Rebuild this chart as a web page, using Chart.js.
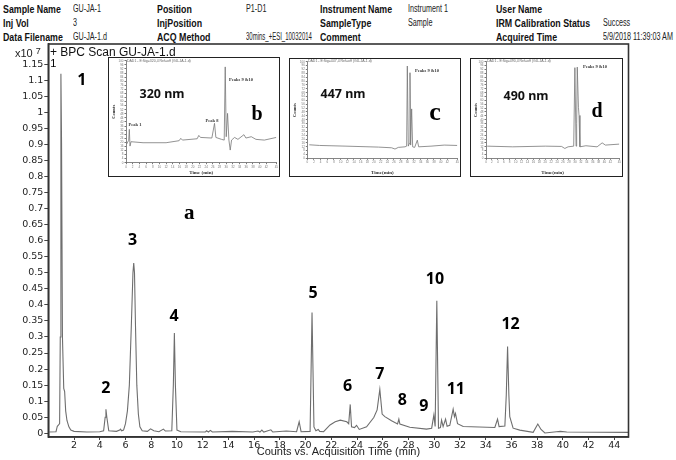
<!DOCTYPE html>
<html>
<head>
<meta charset="utf-8">
<title>BPC Scan GU-JA-1.d</title>
<script src="https://cdn.jsdelivr.net/npm/chart.js@4.4.0/dist/chart.umd.min.js"></script>
<style>
  body { margin: 0; background: #fff; }
  #page { position: relative; width: 676px; height: 460px; overflow: hidden; font-family: "Liberation Sans", Arial, sans-serif; }
  #main { position: absolute; left: 0; top: 0; }
  .hl, .hv { position: absolute; white-space: nowrap; font-family: "Liberation Sans", sans-serif; line-height: 12px; color: #111;
    transform-origin: left center; }
  .hl { font-weight: bold; font-size: 10.5px; transform: scaleX(0.84); }
  .hv { font-size: 10px; transform: scaleX(0.72); color: #222; }
  .inset { position: absolute; border: 1px solid #222; background: #fff; }
  .inset canvas { position: absolute; left: 0; top: 0; }
  .lbl { position: absolute; white-space: nowrap; transform: translate(-50%, -50%); }
  .nm { font-family: "Noto Sans", sans-serif; font-weight: bold; font-size: 12.5px; color: #111; }
  .big { font-family: "Liberation Serif", serif; font-weight: bold; color: #000; }
  .tiny { font-family: "Liberation Serif", serif; font-weight: bold; font-size: 4.5px; color: #333; }
  .hdr { position: absolute; font-size: 3.5px; color: #666; white-space: nowrap; }
</style>
</head>
<body>
<div id="page">
  <div class="hl" style="left:3px;top:3px">Sample Name</div>
  <div class="hv" style="left:73px;top:3px">GU-JA-1</div>
  <div class="hl" style="left:157px;top:3px">Position</div>
  <div class="hv" style="left:246px;top:3px">P1-D1</div>
  <div class="hl" style="left:320px;top:3px">Instrument Name</div>
  <div class="hv" style="left:408px;top:3px">Instrument 1</div>
  <div class="hl" style="left:496px;top:3px">User Name</div>

  <div class="hl" style="left:3px;top:17px">Inj Vol</div>
  <div class="hv" style="left:73px;top:17px">3</div>
  <div class="hl" style="left:157px;top:17px">InjPosition</div>
  <div class="hl" style="left:320px;top:17px">SampleType</div>
  <div class="hv" style="left:408px;top:17px">Sample</div>
  <div class="hl" style="left:496px;top:17px">IRM Calibration Status</div>
  <div class="hv" style="left:603px;top:17px">Success</div>

  <div class="hl" style="left:3px;top:31px">Data Filename</div>
  <div class="hv" style="left:73px;top:31px">GU-JA-1.d</div>
  <div class="hl" style="left:157px;top:31px">ACQ Method</div>
  <div class="hv" style="left:246px;top:31px;transform:scaleX(0.6)">30mins_+ESI_10032014</div>
  <div class="hl" style="left:320px;top:31px">Comment</div>
  <div class="hl" style="left:496px;top:31px">Acquired Time</div>
  <div class="hv" style="left:603px;top:31px">5/9/2018 11:39:03 AM</div>

  <canvas id="main" width="676" height="460"></canvas>

  <div style="position:absolute;left:15px;top:46px;font-size:11px;color:#222">x10<sup style="font-size:9px;vertical-align:3px;margin-left:3px">7</sup></div>
  <div style="position:absolute;left:50px;top:45px;font-size:12px;color:#111">+ BPC Scan GU-JA-1.d</div>

  <div class="inset" style="left:108px;top:57px;width:170px;height:118px">
    <canvas id="insetB" width="170" height="118"></canvas>
    <div class="hdr" style="left:18px;top:1px">DAD1 - E:Sig=320,4 Ref=off (GU-JA-1.d)</div>
    <div class="lbl nm" style="left:53px;top:35px">320 nm</div>
    <div class="lbl big" style="left:148px;top:55px;font-size:20px">b</div>
    <div class="tiny" style="position:absolute;left:120px;top:19px">Peaks 9 &amp;10</div>
    <div class="lbl tiny" style="left:103px;top:62px">Peak 8</div>
    <div class="lbl tiny" style="left:26px;top:66px">Peak 1</div>
  </div>

  <div class="inset" style="left:289px;top:58px;width:170px;height:117px">
    <canvas id="insetC" width="170" height="117"></canvas>
    <div class="hdr" style="left:18px;top:0px">DAD1 - E:Sig=447,4 Ref=off (GU-JA-1.d)</div>
    <div class="lbl nm" style="left:53px;top:34px">447 nm</div>
    <div class="lbl big" style="left:145px;top:53px;font-size:26px">c</div>
    <div class="tiny" style="position:absolute;left:125px;top:9px">Peaks 9 &amp;10</div>
  </div>

  <div class="inset" style="left:470px;top:58px;width:151px;height:117px">
    <canvas id="insetD" width="151" height="117"></canvas>
    <div class="hdr" style="left:16px;top:0px">DAD1 - E:Sig=490,4 Ref=off (GU-JA-1.d)</div>
    <div class="lbl nm" style="left:55px;top:36px">490 nm</div>
    <div class="lbl big" style="left:126px;top:51px;font-size:20px">d</div>
    <div class="tiny" style="position:absolute;left:112px;top:5px">Peaks 9 &amp;10</div>
  </div>
</div>

<script>
// BPC trace (time in min, counts x10^7)
const times = [0.0, 0.6, 0.7, 0.8, 0.88, 0.93, 0.98, 1.03, 1.1, 1.2, 1.27, 1.35, 1.45, 1.6, 1.75, 2.0, 3.0, 4.0,
  4.3, 4.42, 4.48, 4.55, 4.7, 5.3, 5.55, 5.62, 5.7, 5.85, 6.0, 6.15, 6.3, 6.45, 6.58, 6.64, 6.7, 6.78, 6.88, 7.0,
  7.12, 7.3, 7.7, 7.95, 8.2, 8.6, 8.95, 9.1, 9.6, 9.72, 9.8, 9.88, 10.0, 10.3, 12.2, 12.3, 12.45, 12.6, 12.75,
  14.3, 15.9, 16.3, 16.45, 16.6, 16.75, 17.3, 17.45, 18.5, 19.3, 19.5, 19.65, 20.35, 20.5, 20.65, 20.8, 20.98,
  21.1, 21.4, 21.9, 22.3, 22.7, 23.2, 23.35, 23.47, 23.57, 23.8, 23.96, 24.17, 24.74, 25.3, 25.56, 25.77, 25.95,
  26.16, 26.68, 27.15, 27.25, 27.33, 28.1, 29.4, 29.8, 29.97, 30.07, 30.2, 30.33, 30.48, 30.57, 30.69, 30.88,
  31.0, 31.21, 31.47, 31.57, 31.65, 31.81, 32.25, 34.71, 34.92, 35.04, 35.49, 35.6, 35.7, 35.8, 35.87, 36.13,
  36.65, 37.69, 38.05, 38.3, 38.6, 39.5, 39.8, 40.3, 45.1];
const counts = [0.004, 0.005, 0.022, 0.026, 0.03, 0.3, 1.12, 0.9, 0.3, 0.14, 0.13, 0.07, 0.04, 0.02, 0.01, 0.006, 0.004, 0.005,
  0.008, 0.05, 0.075, 0.05, 0.008, 0.006, 0.01, 0.013, 0.008, 0.01, 0.03, 0.07, 0.15, 0.33, 0.5, 0.53, 0.5, 0.33, 0.15, 0.06,
  0.02, 0.008, 0.006, 0.014, 0.008, 0.005, 0.013, 0.007, 0.008, 0.15, 0.312, 0.15, 0.01, 0.005, 0.004, 0.008, 0.004, 0.009, 0.004,
  0.006, 0.004, 0.007, 0.004, 0.01, 0.004, 0.011, 0.004, 0.007, 0.005, 0.036, 0.005, 0.006, 0.376, 0.02, 0.008, 0.012,
  0.006, 0.005, 0.026, 0.036, 0.041, 0.036, 0.03, 0.09, 0.02, 0.018, 0.025, 0.012, 0.02, 0.049, 0.073, 0.137, 0.06,
  0.052, 0.039, 0.029, 0.044, 0.029, 0.019, 0.013, 0.016, 0.057, 0.021, 0.413, 0.016, 0.018, 0.041, 0.021, 0.044,
  0.022, 0.025, 0.075, 0.052, 0.062, 0.03, 0.021, 0.018, 0.044, 0.021, 0.023, 0.12, 0.27, 0.12, 0.052, 0.016,
  0.01, 0.003, 0.029, 0.012, 0.001, 0.005, 0.006, 0.004, 0.003];

const xTicks = [2, 4, 6, 8, 10, 12, 14, 16, 18, 20, 22, 24, 26, 28, 30, 32, 34, 36, 38, 40, 42, 44];
const yTicks = [0, 0.05, 0.1, 0.15, 0.2, 0.25, 0.3, 0.35, 0.4, 0.45, 0.5, 0.55, 0.6, 0.65, 0.7, 0.75, 0.8, 0.85,
  0.9, 0.95, 1, 1.05, 1.1, 1.15];

// DAD insets (time in min, relative response)
const insetBTimes = [0.2, 0.8, 1.0, 1.2, 1.5, 5.1, 12, 15.9, 16.4, 16.9, 21.3, 21.8, 22.3, 25.7, 26.5, 26.9, 28.6,
  29.4, 29.7, 30.0, 30.4, 30.8, 31.2, 31.6, 32.5, 33.5, 35.3, 35.9, 37.5, 38.9, 41.4, 45];
const insetBValues = [18.3, 22, 32.7, 16.3, 20.6, 19.6, 19.6, 21.6, 23.9, 22.2, 23.5, 26.8, 24.8, 24.2, 38.6, 24.8, 22.9,
  22.2, 94, 25.5, 48.4, 22.2, 12.4, 22.2, 24.8, 22.9, 27.5, 24.2, 25.5, 22.9, 22.2, 24.8];

const insetCTimes = [0.6, 3.7, 11.6, 21.4, 25.3, 26.3, 27.3, 29.3, 29.8, 30.0, 30.3, 30.6, 30.8, 31.0, 31.3, 31.6,
  32.2, 33.0, 33.4, 37.1, 41.1, 45];
const insetCValues = [14, 13.3, 12.6, 11.6, 10.9, 9.6, 11.3, 11.9, 12.6, 95.6, 12.6, 15.4, 88.7, 13.7, 51.2, 11.9,
  11.3, 18.8, 11.9, 12.6, 13.7, 13.3];

const insetDTimes = [0.4, 9.0, 20.0, 25.5, 26.6, 27.7, 29.6, 30.0, 30.4, 30.6, 30.8, 31.2, 31.4, 31.7, 33.7, 37.5,
  39.2, 40.3, 45];
const insetDValues = [12.6, 11.9, 12.6, 12.3, 10.2, 11.9, 12.6, 93.9, 12.6, 35.8, 94.5, 52.9, 44.4, 11.9, 13, 11.9,
  16, 13.7, 14.7];

// peak numbers, placed in data units
const peakNotes = [
  {text: '1', t: 0.39, v: 1.15, font: '11px "Liberation Sans"'},
  {text: '1', t: 2.6, v: 1.098}, {text: '2', t: 4.48, v: 0.141}, {text: '3', t: 6.56, v: 0.602},
  {text: '4', t: 9.77, v: 0.365}, {text: '5', t: 20.59, v: 0.436}, {text: '6', t: 23.26, v: 0.147},
  {text: '7', t: 25.77, v: 0.184}, {text: '8', t: 27.51, v: 0.102}, {text: '9', t: 29.19, v: 0.085},
  {text: '10', t: 30.05, v: 0.48}, {text: '11', t: 31.68, v: 0.137}, {text: '12', t: 35.93, v: 0.34},
  {text: 'a', t: 10.96, v: 0.685, font: 'bold 21px "Liberation Serif"'}
];

const framePlugin = {
  id: 'frame',
  afterDraw(chart) {
    const {ctx, chartArea: a} = chart;
    ctx.save();
    ctx.strokeStyle = '#333';
    ctx.lineWidth = 1.6;
    ctx.strokeRect(a.left, a.top, a.right - a.left, a.bottom - a.top);
    ctx.restore();
  }
};

const notesPlugin = {
  id: 'notes',
  afterDatasetsDraw(chart) {
    const {ctx, scales: {x, y}} = chart;
    ctx.save();
    ctx.fillStyle = '#000';
    ctx.textAlign = 'center';
    ctx.textBaseline = 'middle';
    peakNotes.forEach(n => {
      ctx.font = n.font || 'bold 16px "Noto Sans"';
      ctx.fillText(n.text, x.getPixelForValue(n.t), y.getPixelForValue(n.v));
    });
    ctx.restore();
  }
};

new Chart(document.getElementById('main'), {
  type: 'line',
  data: {
    datasets: [{
      data: times.map((t, i) => ({x: t, y: counts[i]})),
      borderColor: '#6e6e6e',
      borderWidth: 1.1,
      pointRadius: 0,
      tension: 0
    }]
  },
  options: {
    responsive: false,
    animation: false,
    devicePixelRatio: 1,
    layout: {padding: {left: 0, top: 44, right: 47.5, bottom: 0}},
    plugins: {legend: {display: false}, tooltip: {enabled: false}},
    scales: {
      x: {
        type: 'linear', min: 0, max: 45.1,
        afterBuildTicks: s => { s.ticks = xTicks.map(v => ({value: v})); },
        afterFit: s => { s.height = 23; },
        ticks: {font: {family: 'DejaVu Sans', size: 9.5}, color: '#222', padding: 0, maxRotation: 0, autoSkip: false},
        grid: {drawOnChartArea: false, tickLength: 3, color: '#444'},
        border: {color: '#333', width: 1.5},
        title: {display: true, text: 'Counts vs. Acquisition Time (min)', color: '#222',
          font: {family: 'Liberation Sans', size: 11}, padding: {top: 0, bottom: 1}}
      },
      y: {
        min: -0.0115, max: 1.2124,
        afterBuildTicks: s => { s.ticks = yTicks.map(v => ({value: v})); },
        afterFit: s => { s.width = 48.3; },
        ticks: {font: {family: 'DejaVu Sans', size: 9.5}, color: '#222', padding: 1, autoSkip: false,
          callback: v => String(+v.toFixed(2))},
        grid: {drawOnChartArea: false, tickLength: 4, color: '#444'},
        border: {color: '#333', width: 1.5}
      }
    }
  },
  plugins: [notesPlugin, framePlugin]
});

function makeInset(id, ts, vs, box, xTitle) {
  new Chart(document.getElementById(id), {
    type: 'line',
    data: {datasets: [{data: ts.map((t, i) => ({x: t, y: vs[i]})), borderColor: '#777',
      borderWidth: 0.8, pointRadius: 0, tension: 0}]},
    options: {
      responsive: false, animation: false, devicePixelRatio: 1,
      layout: {padding: {left: 0, top: box.top, right: 0, bottom: 0}},
      plugins: {legend: {display: false}, tooltip: {enabled: false}},
      scales: {
        x: {
          type: 'linear', min: 0, max: 45,
          afterFit: s => { s.height = box.bottom; },
          ticks: {stepSize: 2, font: {size: 3}, color: '#777', padding: 1, maxRotation: 0, autoSkip: false},
          grid: {drawOnChartArea: false, tickLength: 1.5, color: '#777'},
          border: {color: '#666', width: 0.8},
          title: {display: true, text: xTitle, color: '#333',
            font: {family: 'Liberation Serif', size: 5, weight: 'bold'}, padding: 0}
        },
        y: {
          min: 0, max: 100,
          afterFit: s => { s.width = box.left; },
          ticks: {stepSize: 4, font: {size: 3}, color: '#777', padding: 1, autoSkip: false},
          grid: {drawOnChartArea: false, tickLength: 1.5, color: '#777'},
          border: {color: '#666', width: 0.8},
          title: {display: true, text: 'Counts', color: '#333',
            font: {family: 'Liberation Serif', size: 4.5, weight: 'bold'}, padding: 2}
        }
      }
    }
  });
}

makeInset('insetB', insetBTimes, insetBValues, {left: 17, top: 2.7, bottom: 13.3}, 'Time (min)');
makeInset('insetC', insetCTimes, insetCValues, {left: 17.3, top: 1.7, bottom: 17.7}, 'Time(min)');
makeInset('insetD', insetDTimes, insetDValues, {left: 15, top: 1.7, bottom: 17.7}, 'Time(min)');
</script>
</body>
</html>
